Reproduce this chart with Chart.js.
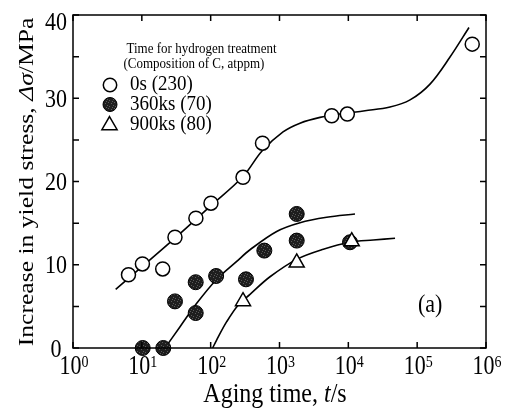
<!DOCTYPE html>
<html>
<head>
<meta charset="utf-8">
<script src="https://cdn.jsdelivr.net/npm/chart.js@4"></script>
<style>
  body { margin: 0; background: #fff; }
</style>
</head>
<body>
<canvas id="grafico" width="509" height="410"></canvas>
<script>
// dados (t em s, tensao em MPa)
var tempoAberto = [6.4, 10.2, 20.1, 30.3, 61, 101, 295, 566, 5740, 9670, 631000];
var tensaoAberto = [8.8, 10.1, 9.5, 13.3, 15.6, 17.4, 20.5, 24.6, 27.9, 28.1, 36.5];

var tempoCheio = [10.3, 20.5, 30.3, 60.6, 60.6, 120, 326, 602, 1778, 1778, 10570];
var tensaoCheio = [0, 0, 5.6, 7.9, 4.2, 8.65, 8.25, 11.7, 16.1, 12.9, 12.7];

var tempoTri = [295, 1778, 11200];
var tensaoTri = [5.6, 10.25, 12.8];

// curvas ajustadas
var curva1T = [4.17, 30.3, 101, 295, 557, 1125, 1986, 3880, 7570, 17460, 40330, 78800, 153700, 300000, 566000];
var curva1Y = [7.05, 13.2, 17.1, 20.6, 23.66, 25.95, 27.0, 27.7, 28.1, 28.5, 28.95, 29.8, 31.7, 34.95, 38.5];

var curva2T = [21.7, 35.9, 62.7, 120, 239, 373, 910, 1986, 4850, 12500];
var curva2Y = [0, 2.56, 5.37, 8.17, 10.4, 11.8, 14.0, 15.05, 15.7, 16.1];

var curva3T = [107, 122, 171, 252, 373, 728, 1778, 4330, 10570, 23070, 47700];
var curva3Y = [0, 0.96, 3.16, 5.17, 6.45, 8.56, 10.65, 11.86, 12.7, 12.97, 13.18];

var decadas = [1, 10, 100, 1000, 10000, 100000, 1000000];
var expoentes = ['0', '1', '2', '3', '4', '5', '6'];
var ticksY = [0, 10, 20, 30, 40];

var legendaTitulo = ['Time for hydrogen treatment', '(Composition of C, atppm)'];
var legendaNomes = ['0s (230)', '360ks (70)', '900ks (80)'];

var SERIF = '"Liberation Serif", "Times New Roman", serif';

function pares(xs, ys) {
    var out = [];
    for (var i = 0; i < xs.length; i++) out.push({ x: xs[i], y: ys[i] });
    return out;
}

// textura pontilhada dos circulos cheios
function criaTextura() {
    var c = document.createElement('canvas');
    c.width = 6; c.height = 6;
    var g = c.getContext('2d');
    g.fillStyle = '#1e1e1e';
    g.fillRect(0, 0, 6, 6);
    g.fillStyle = '#5a5a5a';
    [[0, 0], [3, 1], [5, 3], [1, 4], [4, 5]].forEach(function (p) { g.fillRect(p[0], p[1], 1, 1); });
    return g.createPattern(c, 'repeat');
}
var textura = criaTextura();

function curva(t, y) {
    return {
        data: pares(t, y),
        showLine: true,
        borderColor: '#000',
        borderWidth: 1.6,
        pointRadius: 0,
        tension: 0.35,
        fill: false,
        order: 10
    };
}

function escreve(ctx, partes, x, y, alinhamento, girar, sy) {
    ctx.save();
    ctx.translate(x, y);
    ctx.scale(1, sy);
    if (girar) ctx.rotate(-Math.PI / 2);
    var w = 0;
    partes.forEach(function (p) { ctx.font = p.font; w += ctx.measureText(p.text).width; });
    var cx = alinhamento === 'center' ? -w / 2 : (alinhamento === 'right' ? -w : 0);
    ctx.fillStyle = '#000';
    ctx.textBaseline = 'alphabetic';
    ctx.textAlign = 'left';
    partes.forEach(function (p) {
        ctx.font = p.font;
        ctx.fillText(p.text, cx, p.dy || 0);
        cx += ctx.measureText(p.text).width;
    });
    ctx.restore();
}

var moldura = {
    id: 'moldura',
    afterDraw: function (chart) {
        var ctx = chart.ctx;
        var a = chart.chartArea;
        var sx = chart.scales.x, sy = chart.scales.y;
        ctx.save();
        ctx.strokeStyle = '#000';
        ctx.lineWidth = 1.5;
        ctx.strokeRect(a.left, a.top, a.right - a.left, a.bottom - a.top);

        // ticks para dentro
        ctx.beginPath();
        decadas.forEach(function (v) {
            var px = sx.getPixelForValue(v);
            ctx.moveTo(px, a.bottom); ctx.lineTo(px, a.bottom - 6);
            ctx.moveTo(px, a.top); ctx.lineTo(px, a.top + 6);
        });
        for (var v = 0; v <= 40; v += 5) {
            var py = sy.getPixelForValue(v);
            ctx.moveTo(a.left, py); ctx.lineTo(a.left + 6, py);
            ctx.moveTo(a.right, py); ctx.lineTo(a.right - 6, py);
        }
        ctx.stroke();

        // rotulos eixo x
        decadas.forEach(function (v, i) {
            var px = sx.getPixelForValue(v);
            escreve(ctx, [
                { text: '10', font: '22px ' + SERIF },
                { text: expoentes[i], font: '14px ' + SERIF, dy: -6 }
            ], px + 1, 374, 'center', false, 1.2);
        });
        // rotulos eixo y
        ticksY.forEach(function (v) {
            var py = Math.max(sy.getPixelForValue(v), 21);
            escreve(ctx, [{ text: String(v), font: '22px ' + SERIF }], 56, py + 8.5, 'center', false, 1.15);
        });

        // titulos
        escreve(ctx, [
            { text: 'Aging time, ', font: '24px ' + SERIF },
            { text: 't', font: 'italic 24px ' + SERIF },
            { text: '/s', font: '24px ' + SERIF }
        ], 275, 402, 'center', false, 1.12);
        escreve(ctx, [
            { text: 'Increase in yield stress, ', font: '21px ' + SERIF },
            { text: '\u0394\u03c3', font: 'italic 21px ' + SERIF },
            { text: '/MPa', font: '21px ' + SERIF }
        ], 33, 182, 'center', true, 1.22);

        // legenda
        escreve(ctx, [{ text: legendaTitulo[0], font: '13px ' + SERIF }], 126.5, 53, 'left', false, 1.1);
        escreve(ctx, [{ text: legendaTitulo[1], font: '13px ' + SERIF }], 123.5, 68, 'left', false, 1.1);
        var linhasY = [90, 110, 130];
        legendaNomes.forEach(function (nome, i) {
            escreve(ctx, [{ text: nome, font: '19px ' + SERIF }], 130, linhasY[i], 'left', false, 1.05);
        });
        ctx.lineWidth = 1.5;
        ctx.beginPath();
        ctx.arc(110, 85, 6.7, 0, Math.PI * 2);
        ctx.fillStyle = '#fff'; ctx.fill(); ctx.stroke();
        ctx.beginPath();
        ctx.arc(110, 104.5, 7, 0, Math.PI * 2);
        ctx.fillStyle = textura; ctx.fill();
        ctx.lineWidth = 1; ctx.stroke();
        var r = 8.8, cxT = 109.5, cyT = 125.3;
        ctx.beginPath();
        ctx.moveTo(cxT, cyT - r);
        ctx.lineTo(cxT + r * Math.sin(Math.PI * 2 / 3), cyT - r * Math.cos(Math.PI * 2 / 3));
        ctx.lineTo(cxT - r * Math.sin(Math.PI * 2 / 3), cyT - r * Math.cos(Math.PI * 2 / 3));
        ctx.closePath();
        ctx.fillStyle = '#fff'; ctx.fill();
        ctx.lineWidth = 1.5; ctx.stroke();

        escreve(ctx, [{ text: '(a)', font: '22px ' + SERIF }], 418, 312, 'left', false, 1.1);
        ctx.restore();
    }
};

var config = {
    type: 'scatter',
    data: {
        datasets: [
            curva(curva1T, curva1Y),
            curva(curva2T, curva2Y),
            curva(curva3T, curva3Y),
            {
                label: legendaNomes[0],
                data: pares(tempoAberto, tensaoAberto),
                pointStyle: 'circle',
                pointRadius: 7,
                backgroundColor: '#fff',
                borderColor: '#000',
                borderWidth: 1.5,
                clip: false,
                order: 3
            },
            {
                label: legendaNomes[1],
                data: pares(tempoCheio, tensaoCheio),
                pointStyle: 'circle',
                pointRadius: 7.5,
                backgroundColor: textura,
                borderColor: '#000',
                borderWidth: 1,
                clip: false,
                order: 2
            },
            {
                label: legendaNomes[2],
                data: pares(tempoTri, tensaoTri),
                pointStyle: 'triangle',
                pointRadius: 8.7,
                backgroundColor: '#fff',
                borderColor: '#000',
                borderWidth: 1.5,
                clip: false,
                order: 1
            }
        ]
    },
    options: {
        responsive: false,
        animation: false,
        devicePixelRatio: 1,
        layout: { padding: { top: 15, right: 23, left: 0, bottom: 0 } },
        plugins: { legend: { display: false }, tooltip: { enabled: false } },
        scales: {
            x: {
                type: 'logarithmic',
                min: 1,
                max: 1000000,
                afterBuildTicks: function (s) { s.ticks = decadas.map(function (v) { return { value: v }; }); },
                afterFit: function (s) { s.height = 62; },
                ticks: { display: false },
                grid: { display: false },
                border: { display: false }
            },
            y: {
                type: 'linear',
                min: 0,
                max: 40,
                afterFit: function (s) { s.width = 73; },
                ticks: { display: false },
                grid: { display: false },
                border: { display: false }
            }
        }
    },
    plugins: [moldura]
};

var ctx = document.getElementById('grafico').getContext('2d');
window.meuGrafico = new Chart(ctx, config);
</script>
</body>
</html>
